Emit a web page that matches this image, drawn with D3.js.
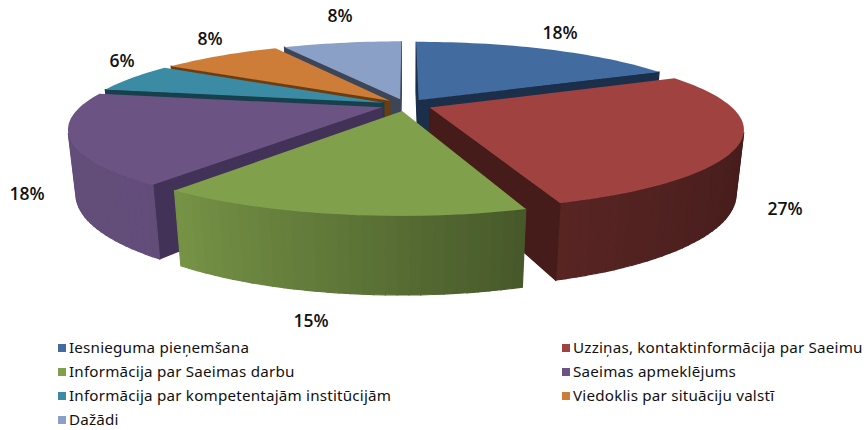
<!DOCTYPE html>
<html>
<head>
<meta charset="utf-8">
<script src="https://d3js.org/d3.v7.min.js"></script>
<style>
    html, body { margin: 0; padding: 0; background: #fff; }
    svg { display: block; }
    .pct { font-family: "Open Sans", sans-serif; font-size: 17.5px; font-weight: 600; fill: #111; text-anchor: middle; }
    .legend text { font-family: "Noto Sans", sans-serif; font-size: 15.2px; letter-spacing: 0.2px; fill: #111; }
</style>
</head>
<body>
<div id="chart"></div>
<script>
var categories = [
    "Iesnieguma pieņemšana",
    "Uzziņas, kontaktinformācija par Saeimu",
    "Informācija par Saeimas darbu",
    "Saeimas apmeklējums",
    "Informācija par kompetentajām institūcijām",
    "Viedoklis par situāciju valstī",
    "Dažādi"
];
var shares = [18, 27, 15, 18, 6, 8, 8];
var topColors = ["#426ca0", "#a04340", "#80a04c", "#6b5484", "#3c8ba5", "#cd7d38", "#8ba0c6"];
var cutColors = ["#1b2f4a", "#451c19", "#4a5a28", "#433257", "#17404c", "#6b3d10", "#3d4558"];

// how far each slice is pulled out, fraction of the radius
var pulled = [0.08, 0.085, 0.08, 0.085, 0.08, 0.08, 0.08];

// where the percentages sit on the page, same order as shares
var labelSpots = [[560, 33], [785, 209], [311, 321], [27, 194], [122, 61], [210, 39], [340, 16]];

function init() {
    var w = 865;
    var h = 430;

    // pie plane seen by a camera in front and above
    var cx = 406, cy = 105, radius = 300;
    var flat = 75, depth = 62;
    var lean = 0.25, sink = 0.022;

    var svg = d3.select("#chart")
        .append("svg")
        .attr("width", w)
        .attr("height", h);

    function project(x, y, z) {
        var k = 1 - lean * y + sink * z;
        return [cx + radius * x / k, cy + (flat * y + depth * z) / k];
    }

    var pie = d3.pie().sort(null).value(function (d) { return d; });
    var slices = pie(shares);
    slices.forEach(function (s) {
        s.mid = (s.startAngle + s.endAngle) / 2;
    });

    // darker towards the right of the ribbon
    var ribbon = d3.scaleLinear()
        .domain([-1, -0.59, 0.31, 1])
        .range([0.93, 0.92, 0.55, 0.43]);

    function edgePoint(s, a, r) {
        var e = pulled[s.index];
        return {
            x: e * Math.sin(s.mid) + r * Math.sin(a),
            y: -e * Math.cos(s.mid) - r * Math.cos(a),
            a: a
        };
    }

    function ringOf(s) {
        var ring = [edgePoint(s, s.mid, 0)];
        var n = Math.ceil((s.endAngle - s.startAngle) / 0.03);
        d3.range(n + 1).forEach(function (i) {
            ring.push(edgePoint(s, s.startAngle + (s.endAngle - s.startAngle) * i / n, 1));
        });
        return ring;
    }

    function shade(color, f) {
        var c = d3.rgb(color);
        return d3.rgb(c.r * f, c.g * f, c.b * f).formatHex();
    }

    var line = d3.line().curve(d3.curveLinearClosed);

    var chart = svg.append("g").style("filter", "blur(0.5px)");

    // back slices first
    var order = slices.slice().sort(function (a, b) { return -Math.cos(a.mid) - -Math.cos(b.mid); });

    order.forEach(function (s) {
        var g = chart.append("g");
        var ring = ringOf(s);
        var last = ring.length - 1;

        ring.forEach(function (p, i) {
            var q = ring[(i + 1) % ring.length];
            var quad = [project(p.x, p.y, 0), project(q.x, q.y, 0), project(q.x, q.y, 1), project(p.x, p.y, 1)];
            // d3.polygonArea is positive for the faces turned to the camera
            if (d3.polygonArea(quad) <= 0) return;

            var isCut = i === 0 || i === last;
            var color = isCut ? cutColors[s.index]
                : shade(topColors[s.index], ribbon(Math.sin((p.a + q.a) / 2)));
            g.append("path")
                .attr("d", line(quad))
                .attr("fill", color)
                .attr("stroke", color)
                .attr("stroke-width", 1.2);
        });

        g.append("path")
            .attr("d", line(ring.map(function (p) { return project(p.x, p.y, 0); })))
            .attr("fill", topColors[s.index]);
    });

    svg.selectAll(".pct")
        .data(shares)
        .enter()
        .append("text")
        .attr("class", "pct")
        .attr("x", function (d, i) { return labelSpots[i][0]; })
        .attr("y", function (d, i) { return labelSpots[i][1] + 6; })
        .text(function (d) { return d + "%"; });

    // legend, two columns
    var legendX = d3.scalePoint().domain([0, 1]).range([58, 562]);
    var legendY = d3.scaleLinear().domain([0, 3]).range([348, 420]);

    var items = svg.append("g")
        .attr("class", "legend")
        .selectAll("g")
        .data(categories)
        .enter()
        .append("g")
        .attr("transform", function (d, i) {
            return "translate(" + legendX(i % 2) + "," + legendY(Math.floor(i / 2)) + ")";
        });

    items.append("rect")
        .attr("x", 0)
        .attr("y", -4)
        .attr("width", 8)
        .attr("height", 8)
        .attr("fill", function (d, i) { return topColors[i]; });

    items.append("text")
        .attr("x", 11)
        .attr("y", 5)
        .text(function (d) { return d; });
}

window.onload = init;
</script>
</body>
</html>
